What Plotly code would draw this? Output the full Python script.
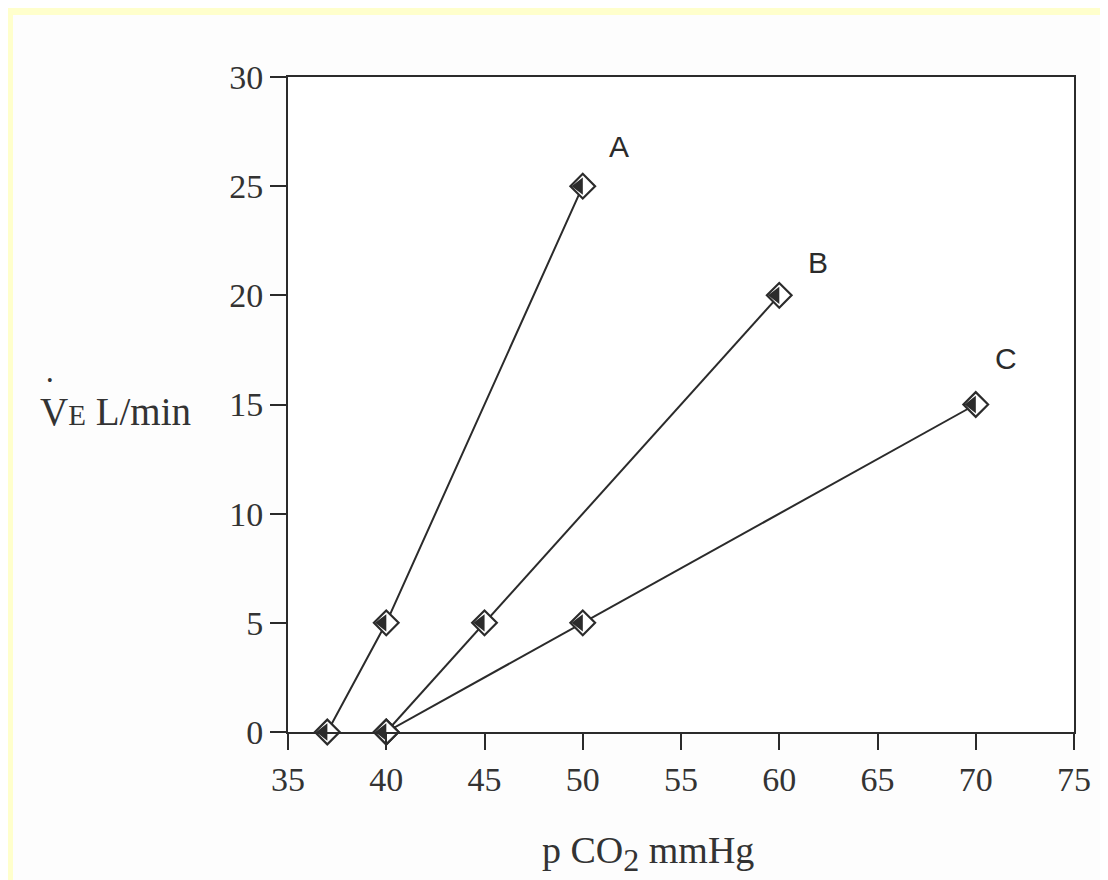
import plotly.graph_objects as go

# Data
series_names = ["A", "B", "C"]
a_x = [37, 40, 50]
a_y = [0, 5, 25]
b_x = [40, 45, 60]
b_y = [0, 5, 20]
c_x = [40, 50, 70]
c_y = [0, 5, 15]
label_pos = {"A": (51.85, 26.8), "B": (61.95, 21.5), "C": (71.55, 17.1)}
x_ticks = [35, 40, 45, 50, 55, 60, 65, 70, 75]
y_ticks = [0, 5, 10, 15, 20, 25, 30]

ink = "#2b2b2b"
fig = go.Figure()
for name, xs, ys in [("A", a_x, a_y), ("B", b_x, b_y), ("C", c_x, c_y)]:
    fig.add_trace(go.Scatter(
        x=xs, y=ys, mode="lines+markers", name=name,
        line=dict(color=ink, width=2),
        marker=dict(symbol="diamond", size=19, color="white",
                    line=dict(color=ink, width=2.2)),
        showlegend=False, cliponaxis=False))
    fig.add_trace(go.Scatter(
        x=xs, y=ys, mode="markers", name=name + " fill",
        marker=dict(symbol="triangle-down", angle=90, standoff=3.7, size=15, color=ink,
                    line=dict(width=0)),
        showlegend=False, cliponaxis=False))
    lx, ly = label_pos[name]
    fig.add_annotation(x=lx, y=ly, text=name, showarrow=False,
                       font=dict(family="Liberation Sans, Arial", size=30, color=ink))

serif = "Liberation Serif, Times New Roman, serif"
fig.update_xaxes(range=[35, 75], tickvals=x_ticks, ticks="outside", ticklen=16,
                 tickwidth=2, tickcolor=ink, showline=True, linecolor=ink, linewidth=2,
                 mirror=True, showgrid=False, zeroline=False,
                 tickfont=dict(family=serif, size=34, color="#333"))
fig.update_yaxes(range=[0, 30], tickvals=y_ticks, ticks="outside", ticklen=16,
                 tickwidth=2, tickcolor=ink, showline=True, linecolor=ink, linewidth=2,
                 mirror=True, showgrid=False, zeroline=False,
                 tickfont=dict(family=serif, size=34, color="#333"))

fig.add_annotation(xref="paper", yref="paper", x=0.458, y=-0.185, yanchor="middle",
                   text="p CO<sub><span style='font-size:32px'>2</span></sub> mmHg", showarrow=False,
                   font=dict(family=serif, size=38, color="#333"))
fig.add_annotation(xref="paper", yref="paper", x=-0.318, y=0.49, xanchor="left", yanchor="middle",
                   text="V<span style='font-size:29px'>E</span> L/min", showarrow=False,
                   font=dict(family=serif, size=39, color="#333"))
fig.add_annotation(xref="paper", yref="paper", x=-0.303, y=0.537, xanchor="center", yanchor="middle",
                   text="•", showarrow=False,
                   font=dict(family=serif, size=16, color="#333"))

# yellow page frame
W, H = 1100, 872
L, T, PW, PH = 280, 69, 786, 655
yellow = "#ffffcc"
fig.add_shape(type="rect", xref="paper", yref="paper", x0=-L / PW, x1=(W - L) / PW,
              y0=(PH + T - 7) / PH, y1=(PH + T) / PH, fillcolor=yellow, line_width=0, layer="below")
fig.add_shape(type="rect", xref="paper", yref="paper", x0=-L / PW, x1=(5 - L) / PW,
              y0=(PH + T - H) / PH, y1=(PH + T - 7) / PH, fillcolor=yellow, line_width=0, layer="below")

fig.update_layout(width=W, height=H, margin=dict(l=L, r=W - L - PW, t=T, b=H - T - PH),
                  paper_bgcolor="#fdfdfd", plot_bgcolor="white")
fig.write_html("out.html")
